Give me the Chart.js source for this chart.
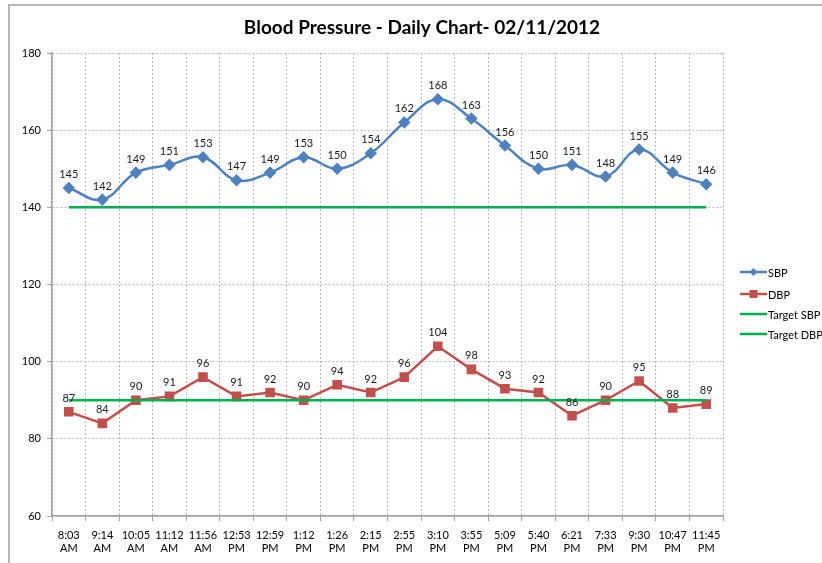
<!DOCTYPE html>
<html>
<head>
<meta charset="utf-8">
<script src="https://cdn.jsdelivr.net/npm/chart.js@4"></script>
<style>
  html, body { margin: 0; padding: 0; background: #fff; overflow: hidden; }
  #wrap { position: relative; width: 822px; height: 563px; }
</style>
</head>
<body>
<div id="wrap"><canvas id="bpChart" width="822" height="563"></canvas></div>
<script>
// Chart data
var times = [
    ['8:03', 'AM'], ['9:14', 'AM'], ['10:05', 'AM'], ['11:12', 'AM'], ['11:56', 'AM'],
    ['12:53', 'PM'], ['12:59', 'PM'], ['1:12', 'PM'], ['1:26', 'PM'], ['2:15', 'PM'],
    ['2:55', 'PM'], ['3:10', 'PM'], ['3:55', 'PM'], ['5:09', 'PM'], ['5:40', 'PM'],
    ['6:21', 'PM'], ['7:33', 'PM'], ['9:30', 'PM'], ['10:47', 'PM'], ['11:45', 'PM']
];
var sbp = [145, 142, 149, 151, 153, 147, 149, 153, 150, 154, 162, 168, 163, 156, 150, 151, 148, 155, 149, 146];
var dbp = [87, 84, 90, 91, 96, 91, 92, 90, 94, 92, 96, 104, 98, 93, 92, 86, 90, 95, 88, 89];
var targetSbp = 140;
var targetDbp = 90;
var yTicks = [60, 80, 100, 120, 140, 160, 180];

var FONT = 'Lato, "Open Sans", sans-serif';
var BLUE = '#4F81BD';
var RED = '#C0504D';
var GREEN = '#00B050';

// Frame, point labels, title and legend
var decorations = {
    id: 'decorations',
    beforeDraw: function (chart) {
        var ctx = chart.ctx;
        ctx.save();
        ctx.strokeStyle = '#b5b5b5';
        ctx.lineWidth = 2;
        ctx.beginPath();
        ctx.moveTo(9, 563);
        ctx.lineTo(9, 5);
        ctx.lineTo(822, 5);
        ctx.stroke();
        ctx.restore();
    },
    afterDatasetsDraw: function (chart) {
        var ctx = chart.ctx;
        ctx.save();
        ctx.font = '11px ' + FONT;
        ctx.fillStyle = '#1a1a1a';
        ctx.textAlign = 'center';
        ctx.textBaseline = 'bottom';
        [0, 1].forEach(function (i) {
            chart.getDatasetMeta(i).data.forEach(function (pt, j) {
                ctx.fillText(String(chart.data.datasets[i].data[j]), pt.x, pt.y - 8);
            });
        });

        // Title
        ctx.font = 'bold 19px ' + FONT;
        ctx.fillStyle = '#000';
        ctx.textBaseline = 'middle';
        ctx.fillText('Blood Pressure - Daily Chart- 02/11/2012', 422, 28);

        // Legend
        var items = [
            { text: 'SBP', color: BLUE, marker: 'diamond', y: 272 },
            { text: 'DBP', color: RED, marker: 'square', y: 294 },
            { text: 'Target SBP', color: GREEN, marker: null, y: 314 },
            { text: 'Target DBP', color: GREEN, marker: null, y: 334 }
        ];
        ctx.font = '11px ' + FONT;
        ctx.textAlign = 'left';
        items.forEach(function (it) {
            ctx.strokeStyle = it.color;
            ctx.lineWidth = 2.5;
            ctx.beginPath();
            ctx.moveTo(740, it.y);
            ctx.lineTo(767, it.y);
            ctx.stroke();
            ctx.fillStyle = it.color;
            if (it.marker === 'diamond') {
                ctx.beginPath();
                ctx.moveTo(753.5, it.y - 4);
                ctx.lineTo(757.5, it.y);
                ctx.lineTo(753.5, it.y + 4);
                ctx.lineTo(749.5, it.y);
                ctx.closePath();
                ctx.fill();
            } else if (it.marker === 'square') {
                ctx.fillRect(749.5, it.y - 4, 8, 8);
            }
            ctx.fillStyle = '#000';
            ctx.fillText(it.text, 768, it.y + 1);
        });
        ctx.restore();
    }
};

var ctx = document.getElementById('bpChart').getContext('2d');
var bpChart = new Chart(ctx, {
    type: 'line',
    data: {
        labels: times,
        datasets: [{
            label: 'SBP',
            data: sbp,
            borderColor: BLUE,
            backgroundColor: BLUE,
            borderWidth: 2.5,
            pointStyle: 'rectRot',
            pointRadius: 4.5,
            tension: 0.4,
            order: 1
        }, {
            label: 'DBP',
            data: dbp,
            borderColor: RED,
            backgroundColor: RED,
            borderWidth: 2.5,
            pointStyle: 'rect',
            pointRadius: 5,
            tension: 0,
            order: 1
        }, {
            label: 'Target SBP',
            data: sbp.map(function () { return targetSbp; }),
            borderColor: GREEN,
            borderWidth: 2.5,
            pointRadius: 0,
            order: 0
        }, {
            label: 'Target DBP',
            data: dbp.map(function () { return targetDbp; }),
            borderColor: GREEN,
            borderWidth: 2.5,
            pointRadius: 0,
            order: 0
        }]
    },
    options: {
        responsive: false,
        animation: false,
        layout: { padding: { left: 0, right: 99, top: 53, bottom: 0 } },
        plugins: {
            legend: { display: false },
            title: { display: false },
            tooltip: { enabled: false }
        },
        scales: {
            x: {
                offset: true,
                grid: {
                    offset: true,
                    color: '#b8b8b8',
                    tickLength: 5,
                    tickColor: '#a0a0a0',
                    tickBorderDash: []
                },
                // dash applies to the grid lines in v4
                border: { color: '#a0a0a0', width: 1.5, dash: [2, 2] },
                ticks: {
                    font: { family: FONT, size: 11 },
                    color: '#000',
                    maxRotation: 0,
                    autoSkip: false,
                    padding: 8
                },
                afterFit: function (scale) { scale.height = 47; }
            },
            y: {
                min: 60,
                max: 180,
                afterBuildTicks: function (scale) {
                    scale.ticks = yTicks.map(function (v) { return { value: v }; });
                },
                grid: {
                    color: '#b8b8b8',
                    tickLength: 5,
                    tickColor: '#a0a0a0',
                    tickBorderDash: []
                },
                border: { color: '#a0a0a0', width: 1.5, dash: [2, 2] },
                ticks: {
                    font: { family: FONT, size: 11 },
                    color: '#000',
                    padding: 6
                },
                afterFit: function (scale) { scale.width = 52; }
            }
        }
    },
    plugins: [decorations]
});
</script>
</body>
</html>
